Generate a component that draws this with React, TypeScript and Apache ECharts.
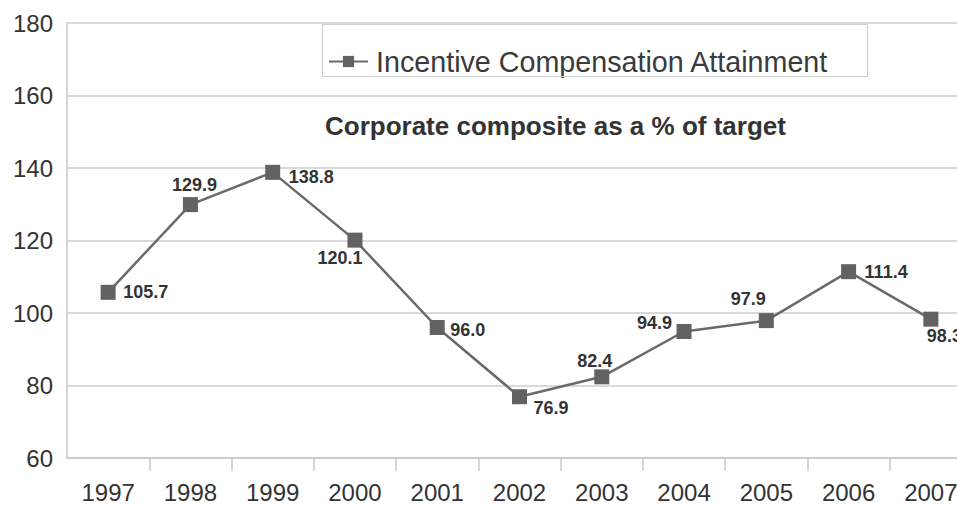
import React, { useEffect, useRef } from "react";
import * as echarts from "echarts";

const years = ["1997", "1998", "1999", "2000", "2001", "2002", "2003", "2004", "2005", "2006", "2007"];
const attainment = [105.7, 129.9, 138.8, 120.1, 96.0, 76.9, 82.4, 94.9, 97.9, 111.4, 98.3];
const seriesName = "Incentive Compensation Attainment";
const chartTitle = "Corporate composite as a % of target";
const yMin = 60;
const yMax = 180;
const yStep = 20;

// label placement per point: [dx, dy, align]
const labelPlacement: [number, number, string][] = [
  [15, 0, "left"],
  [4, -20, "center"],
  [16, 5, "left"],
  [-15, 18, "center"],
  [13, 2, "left"],
  [14, 11, "left"],
  [-7, -16, "center"],
  [-12, -8, "right"],
  [-18, -22, "center"],
  [16, 0, "left"],
  [-4, 17, "left"],
];

const FONT = "'Liberation Sans', Arial, Helvetica, sans-serif";

export default function App() {
  const ref = useRef<HTMLDivElement>(null);
  useEffect(() => {
    if (!ref.current) return;
    const chart = echarts.init(ref.current, null, { renderer: "svg" });
    const data = attainment.map((v, i) => {
      const [dx, dy, align] = labelPlacement[i];
      return {
        value: v,
        label: {
          show: true,
          position: "inside",
          align,
          verticalAlign: "middle",
          offset: [dx, dy],
        },
      };
    });
    chart.setOption({
      animation: false,
      backgroundColor: "#ffffff",
      textStyle: { fontFamily: FONT },
      title: {
        text: chartTitle,
        left: 325,
        top: 113,
        padding: 0,
        textStyle: { fontFamily: FONT, fontSize: 26, fontWeight: "bold", color: "#333333" },
      },
      legend: {
        left: 328,
        top: 47,
        padding: 0,
        itemWidth: 39,
        itemHeight: 14,
        itemGap: 0,
        data: [seriesName],
        textStyle: { fontFamily: FONT, fontSize: 28.7, color: "#3a3a3a", padding: [0, 0, 0, 3] },
      },
      graphic: [
        {
          type: "rect",
          shape: { x: 322.5, y: 24.5, width: 545, height: 52 },
          style: { fill: "none", stroke: "#cfcfcf", lineWidth: 1.2 },
          z: 10,
        },
      ],
      grid: { left: 67, top: 23, width: 905, height: 435, containLabel: false, outerBoundsMode: "none" },
      xAxis: {
        type: "category",
        data: years,
        boundaryGap: true,
        axisLine: { show: true, lineStyle: { color: "#c8c8c8", width: 1.5 } },
        axisTick: {
          show: true,
          length: 13,
          interval: (i: number) => i > 0,
          lineStyle: { color: "#c8c8c8", width: 1.5 },
        },
        axisLabel: { fontFamily: FONT, fontSize: 24, color: "#333333", margin: 22 },
      },
      yAxis: {
        type: "value",
        min: yMin,
        max: yMax,
        interval: yStep,
        axisLine: { show: true, lineStyle: { color: "#c8c8c8", width: 1.5 } },
        axisTick: { show: false },
        splitLine: { show: true, lineStyle: { color: "#cdcdcd", width: 1.5 } },
        axisLabel: { fontFamily: FONT, fontSize: 24, color: "#333333", margin: 14 },
      },
      series: [
        {
          name: seriesName,
          type: "line",
          data,
          symbol: "rect",
          symbolSize: 15,
          lineStyle: { color: "#6a6a6a", width: 2.5 },
          itemStyle: { color: "#626262" },
          label: {
            show: true,
            fontFamily: FONT,
            fontSize: 18,
            fontWeight: "bold",
            color: "#333333",
            formatter: (p: any) => Number(p.value).toFixed(1),
          },
          z: 5,
        },
      ],
    });
    return () => chart.dispose();
  }, []);
  return (
    <div
      ref={ref}
      style={{ position: "fixed", left: 0, top: 0, width: 957, height: 506, background: "#fff" }}
    />
  );
}
